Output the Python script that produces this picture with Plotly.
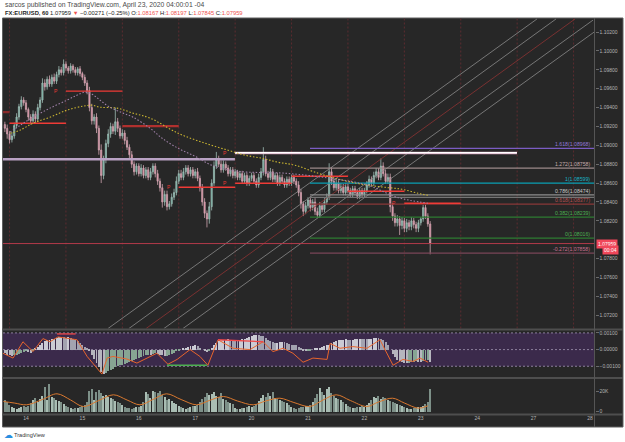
import plotly.graph_objects as go

W, H = 625, 442

# ---------------- data ----------------
bar_index = list(range(-9, 173))          # hourly bars, 0 = 14 Apr 00:00
first_open = 1.0922
close = [
    1.0918, 1.0912, 1.0906, 1.0910, 1.0921, 1.0930, 1.0941, 1.0948, 1.0945,
    1.0938, 1.0930, 1.0926, 1.0933, 1.0928, 1.0940, 1.0948, 1.0966, 1.0962, 1.0970, 1.0965, 1.0972,
    1.0968, 1.0975, 1.0980, 1.0977, 1.0986, 1.0982, 1.0979, 1.0984, 1.0980, 1.0977, 1.0981, 1.0976,
    1.0972, 1.0966, 1.0958, 1.0940, 1.0926, 1.0930, 1.0918, 1.0895, 1.0868, 1.0885, 1.0902, 1.0912,
    1.0920, 1.0915, 1.0925, 1.0918, 1.0910, 1.0913, 1.0905, 1.0898, 1.0890, 1.0880, 1.0872, 1.0878,
    1.0870, 1.0876, 1.0868, 1.0874, 1.0866, 1.0872, 1.0878, 1.0870, 1.0862, 1.0855, 1.0840, 1.0848,
    1.0835, 1.0838, 1.0845, 1.0850, 1.0862, 1.0870, 1.0866, 1.0872, 1.0876, 1.0870, 1.0874, 1.0868,
    1.0872, 1.0865, 1.0855, 1.0840, 1.0828, 1.0822, 1.0835, 1.0860, 1.0878, 1.0885, 1.0880, 1.0874,
    1.0880, 1.0876, 1.0870, 1.0874, 1.0868, 1.0872, 1.0866, 1.0870, 1.0862, 1.0868, 1.0860, 1.0865,
    1.0868, 1.0862, 1.0858, 1.0866, 1.0872, 1.0885, 1.0870, 1.0866, 1.0872, 1.0864, 1.0868, 1.0860,
    1.0866, 1.0862, 1.0858, 1.0864, 1.0860, 1.0866, 1.0862, 1.0858, 1.0850, 1.0838, 1.0830, 1.0836,
    1.0842, 1.0834, 1.0840, 1.0830, 1.0826, 1.0836, 1.0832, 1.0840, 1.0845, 1.0872, 1.0862, 1.0855,
    1.0860, 1.0852, 1.0856, 1.0850, 1.0856, 1.0852, 1.0848, 1.0854, 1.0850, 1.0846, 1.0852, 1.0848,
    1.0852, 1.0858, 1.0864, 1.0860, 1.0868, 1.0872, 1.0866, 1.0878, 1.0870, 1.0862, 1.0866, 1.0835,
    1.0825, 1.0818, 1.0822, 1.0815, 1.0820, 1.0812, 1.0818, 1.0814, 1.0820, 1.0816, 1.0812, 1.0818,
    1.0822, 1.0834, 1.0825, 1.08167, 1.07959,
]
upper_wick_pips = [
    3, 4, 3, 4, 3, 4, 3, 4, 3,
    3, 2, 3, 4, 3, 4, 3, 5, 4, 3, 4, 3, 4, 3, 4, 3, 5, 3, 2, 3, 2, 3, 2, 3,
    2, 3, 3, 4, 4, 3, 4, 3, 6, 4, 4, 5, 4, 3, 15, 4, 3, 4, 3, 4, 3, 4, 3, 3,
    3, 4, 3, 3, 3, 4, 3, 3, 4, 3, 4, 4, 4, 3, 4, 4, 5, 4, 4, 4, 3, 3, 3, 3,
    3, 4, 3, 4, 4, 3, 5, 4, 5, 8, 4, 4, 4, 3, 3, 3, 3, 3, 2, 3, 3, 3, 3, 3,
    3, 3, 3, 4, 4, 13, 4, 3, 4, 3, 3, 3, 3, 3, 3, 3, 3, 3, 3, 3, 4, 4, 3, 4,
    3, 4, 3, 4, 4, 4, 3, 4, 4, 9, 5, 4, 4, 3, 4, 3, 4, 3, 3, 3, 3, 3, 3, 3,
    3, 4, 4, 3, 4, 4, 4, 8, 4, 4, 4, 4, 4, 3, 4, 3, 4, 3, 4, 3, 4, 3, 3, 3,
    2, 3, 3, 3, 3,
]
lower_wick_pips = [
    4, 5, 4, 3, 3, 3, 3, 3, 3,
    3, 4, 4, 3, 4, 3, 3, 3, 4, 3, 3, 3, 3, 3, 3, 3, 3, 3, 3, 3, 3, 3, 3, 3,
    3, 3, 4, 4, 4, 4, 5, 5, 8, 4, 4, 4, 4, 3, 4, 4, 3, 3, 4, 3, 4, 4, 4, 3,
    3, 3, 3, 3, 3, 3, 3, 4, 4, 4, 6, 4, 4, 3, 3, 3, 3, 3, 3, 3, 3, 3, 3, 3,
    3, 3, 4, 4, 5, 9, 5, 4, 3, 3, 3, 3, 3, 3, 3, 3, 3, 3, 3, 3, 3, 3, 3, 3,
    3, 3, 3, 3, 3, 4, 3, 3, 3, 3, 3, 3, 3, 3, 3, 3, 3, 3, 3, 3, 4, 5, 5, 3,
    3, 4, 3, 4, 3, 3, 3, 3, 3, 3, 4, 3, 3, 3, 3, 3, 3, 3, 3, 3, 3, 3, 3, 3,
    3, 3, 3, 3, 3, 3, 3, 3, 3, 3, 3, 6, 5, 4, 4, 10, 4, 4, 4, 4, 4, 4, 4, 4,
    3, 3, 3, 3, 11.4,
]
volume_k = [
    12, 10, 7, 5, 4, 3, 4, 5, 6,
    5, 6, 9, 12, 14, 10, 13, 16, 25, 12, 28, 15, 14, 12, 11, 10, 8, 6, 5, 4, 3, 4, 4, 5,
    6, 7, 10, 21, 23, 12, 20, 22, 19, 16, 17, 15, 14, 13, 11, 10, 9, 7, 5, 4, 4, 3, 4, 5,
    5, 6, 10, 20, 18, 14, 21, 20, 19, 21, 17, 15, 12, 13, 11, 9, 8, 6, 5, 4, 3, 4, 5, 6,
    6, 7, 10, 13, 15, 19, 17, 18, 20, 16, 15, 19, 13, 12, 10, 9, 8, 4, 3, 3, 4, 4, 5, 6,
    5, 6, 8, 11, 14, 17, 15, 19, 16, 20, 14, 13, 12, 11, 10, 9, 7, 5, 4, 3, 4, 5, 5, 6,
    6, 7, 10, 14, 18, 24, 20, 17, 23, 25, 19, 16, 14, 13, 12, 10, 8, 6, 5, 4, 4, 5, 5, 6,
    5, 7, 9, 12, 15, 14, 16, 13, 15, 14, 12, 11, 10, 9, 8, 7, 6, 5, 4, 3, 3, 4, 4, 5,
    5, 6, 8, 10, 23,
]
vol_ma_idx = [-9.6, -5, 0.3, 7, 13.2, 19, 24.4, 31, 37.2, 43, 48.5, 54, 59.8, 66, 72.6, 78,
              84, 90, 96.7, 102, 108, 114, 120.8, 126, 132, 138, 145, 150, 156, 161, 167, 171]
vol_ma_k = [10, 8.5, 6.7, 12, 17.7, 11.5, 5, 11, 16.7, 11.5, 6.7, 12, 17.7, 12, 6.7, 11,
            15, 10.5, 6.7, 10.5, 13.3, 9, 5, 11, 16.7, 11, 5, 9.5, 13.3, 8.5, 3.3, 5.7]

osc_hist_e5 = [
    -20, -30, -35, -40, -35, -30, -25, -20, -15, -10, -15, -20, -10,
    5, 15, 25, 40, 50, 55, 60, 62, 65,
    70, 74, 76, 75, 72, 74, 70, 65, 58, 50,
    40, 30, 18, 5, -10,
    -30, -55, -80, -105, -135, -145, -140, -130, -125,
    -115, -105, -100, -95, -90, -85, -80, -75, -70, -60, -55, -50, -45, -40,
    -35, -30, -30, -25, -20, -25, -30, -35, -40, -38, -32, -25, -18, -10, -5, 0,
    5, 10, 15, 20, 22, 25, 20, 10, 0, -10, -15, -5, 10,
    25, 40, 50, 55, 58, 60, 62, 60, 58, 56, 55, 58, 62, 66, 70, 75, 80, 85, 88, 86, 84, 80, 70, 60,
    50, 45, 40, 42, 45, 48, 45, 40, 35, 30, 28, 25, 15, 5, -5, -10, -8, -5, 0, 5, 10, 12, 15, 20, 25, 30, 40,
    45, 50, 55, 58, 60, 62, 60, 58, 60, 62, 64, 66, 65, 63, 62, 64, 66, 70, 72, 70, 65, 60,
    45, 25, 0, -25, -45, -60, -70, -75, -78, -80, -78, -75, -72, -70, -72, -74, -70, -65, -60, -72,
]
osc_line_idx = [-9.8, -5.5, -1.3, 3, 7.2, 10.2, 13.6, 17.5, 21.7, 26, 30.2, 32.3, 34.5, 37, 43, 47.2,
                51.5, 55.7, 58.3, 60.4, 64.3, 69.8, 74, 77.4, 81.7, 88.1, 95.3, 100.9, 105.1, 109.4,
                113.6, 117.9, 122.1, 128.1, 129.4, 133.6, 139.1, 145.1, 150.6, 153.6, 156.2, 160.4,
                164.7, 167.7, 171.1]
osc_line_e5 = [-22, -51, 47, -12, 66, 47, 76, 68, 59, -41, -110, -147, -51, -41, -57, -81,
               -51, -22, -59, -88, -59, 0, -41, -94, 59, 8, 0, 47, -12, 8,
               -22, -76, -51, -59, 37, 8, 18, 8, 59, -22, -94, -59,
               -71, -51, -76]
osc_div_red = [([13.2, 21.1], [94, 94]), ([81.7, 100.9], [59, 47])]
osc_div_green = ([60, 77], [-94, -94])

ma_fast_idx = [-6.8, -2.6, 3, 10.2, 17.4, 21.7, 25.1, 28.1, 31.5, 35.7, 41.3, 45.5, 52.8, 57.9,
               64.7, 71.9, 79.1, 90.2, 110.2, 129.4, 145.5, 157.9, 171]
ma_fast_price = [1.0914, 1.0921, 1.09298, 1.09394, 1.09478, 1.09531, 1.09563, 1.09542, 1.09478,
                 1.09404, 1.09341, 1.09298, 1.09181, 1.09075, 1.08969, 1.08884, 1.08789, 1.08725,
                 1.08704, 1.08651, 1.08577, 1.08449, 1.08386]
ma_slow_idx = [-6.8, -2.6, 3, 10.2, 17.4, 24.3, 28.1, 31.5, 38.7, 45.5, 52.8, 64.7, 76.2, 86,
               93.2, 100.4, 107.2, 114.5, 124.3, 131.5, 138.7, 145.5, 152.8, 160, 166.8, 171]
ma_slow_price = [1.09128, 1.0916, 1.09234, 1.09298, 1.09372, 1.09415, 1.09425, 1.09404, 1.09394,
                 1.09341, 1.09288, 1.09128, 1.09022, 1.08948, 1.08895, 1.08863, 1.08821, 1.08789,
                 1.08704, 1.08651, 1.08608, 1.08577, 1.08555, 1.08534, 1.08492, 1.08470]

day_tick_idx = [0, 24, 48, 72, 96, 120, 144, 168, 192, 216, 240]
day_tick_text = ["14", "15", "16", "17", "20", "21", "22", "23", "24", "27", "28"]
session_break_idx = [-7, 17, 41, 65, 89, 113, 137, 161, 185, 209, 233]
price_ticks = [1.072, 1.074, 1.076, 1.078, 1.082, 1.084, 1.086, 1.088, 1.090,
               1.092, 1.094, 1.096, 1.098, 1.100, 1.102]

pivot_start = [-10, -7, 17, 41, 65, 89, 113, 137, 161]
pivot_end = [-7, 17, 41, 65, 89, 113, 137, 161, 185]
pivot_price = [1.09351, 1.09234, 1.09574, 1.09203, 1.08555, 1.08598, 1.08672, 1.08513, 1.08386]
pivot_p_idx = [14.5, 62.5, 86.4, 86.4, 158.3]
pivot_p_price = [1.09574, 1.08555, 1.08921, 1.08598, 1.08386]

lavender_level = (1.08853, -10, 88.9)
white_level = (1.08921, 88.9, 208.9)
last_price = 1.07959
countdown_price = 1.07892

fib_start_idx = 120.85
fib_price = [1.08968, 1.08758, 1.08599, 1.08474, 1.08449, 1.08377, 1.08239, 1.08016, 1.07858]
fib_text = ["1.618(1.08968)", "1.272(1.08758)", "1(1.08599)", "0.786(1.08474)", "",
            "0.618(1.08377)", "0.382(1.08239)", "0(1.08016)", "-0.272(1.07858)"]
fib_line_color = ["#7b5cc4", "#9c8a8a", "#0aa0b4", "#8e8e8e", "#747474", "#8a3838",
                  "#2e7d32", "#2e7d32", "#7a4658"]
fib_text_color = ["#9478dc", "#c4acac", "#18b0c4", "#c8c8c8", "#c8c8c8", "#b85050",
                  "#4caf50", "#4caf50", "#c87090"]

channel_idx = [(34.9, 217.4), (43.8, 225.5), (51.1, 233.6), (58.7, 241.3), (66.8, 241.7)]
channel_price = [(1.07059, 1.10338), (1.07059, 1.10338), (1.07059, 1.10338),
                 (1.07059, 1.10327), (1.07059, 1.10199)]
channel_color = ["#8c8c8c", "#8c8c8c", "#8e3434", "#8c8c8c", "#8c8c8c"]

# ---------------- derived OHLC ----------------
opens = [first_open] + close[:-1]
highs = [max(o, c) + u * 1e-4 for o, c, u in zip(opens, close, upper_wick_pips)]
lows = [min(o, c) - d * 1e-4 for o, c, d in zip(opens, close, lower_wick_pips)]


def py(y):
    return 1 - y / H


def pxx(x):
    return x / W


X0, X1 = -9.787, 241.70
fig = go.Figure()

# channel lines
for (i0, i1), (p0, p1), col in zip(channel_idx, channel_price, channel_color):
    fig.add_trace(go.Scatter(x=[i0, i1], y=[p0, p1], mode="lines",
                             line=dict(color=col, width=0.8), xaxis="x", yaxis="y"))

# fib levels
for p, col in zip(fib_price, fib_line_color):
    fig.add_trace(go.Scatter(x=[fib_start_idx, 250], y=[p, p], mode="lines",
                             line=dict(color=col, width=1.2), xaxis="x", yaxis="y"))

# lavender and white levels
fig.add_trace(go.Scatter(x=[lavender_level[1], lavender_level[2]], y=[lavender_level[0]] * 2,
                         mode="lines", line=dict(color="#b9a2c4", width=2.4)))
fig.add_trace(go.Scatter(x=[white_level[1], white_level[2]], y=[white_level[0] - 0.00002] * 2,
                         mode="lines", line=dict(color="#d49ab8", width=2.6)))
fig.add_trace(go.Scatter(x=[white_level[1], white_level[2]], y=[white_level[0]] * 2,
                         mode="lines", line=dict(color="#ffffff", width=1.3)))

# pivots
for k, (a, b, p) in enumerate(zip(pivot_start, pivot_end, pivot_price)):
    if k == 0:
        col, wd = "#8b2a2a", 2.2
    elif k == 3:
        col, wd = "#b0302e", 2.2
    else:
        col, wd = "#ef3b36", 1.4
    fig.add_trace(go.Scatter(x=[a, b], y=[p, p], mode="lines", line=dict(color=col, width=wd)))

# moving averages
fig.add_trace(go.Scatter(x=ma_slow_idx, y=ma_slow_price, mode="lines", line_shape="spline",
                         line=dict(color="#c9b431", width=1.1, dash="1.5px,1.8px")))
fig.add_trace(go.Scatter(x=ma_fast_idx, y=ma_fast_price, mode="lines", line_shape="spline",
                         line=dict(color="#9d7fa6", width=1.1, dash="1.5px,1.8px")))

# candles
fig.add_trace(go.Candlestick(
    x=bar_index, open=opens, high=highs, low=lows, close=close,
    increasing=dict(line=dict(color="#9fbdb5", width=0.8), fillcolor="#5fa898"),
    decreasing=dict(line=dict(color="#cfa4b0", width=0.8), fillcolor="#e58aa3"),
    whiskerwidth=0, xaxis="x", yaxis="y"))

# oscillator
hist_vals = [v * 1e-5 for v in osc_hist_e5]
hist_cols = []
prev = hist_vals[0]
for v in hist_vals:
    if v >= 0:
        hist_cols.append("#cbcbd4" if v >= prev else "#a3a3b0")
    else:
        hist_cols.append("#b6b6be" if v <= prev else "#87a593")
    prev = v
fig.add_trace(go.Bar(x=bar_index, y=hist_vals, marker=dict(color=hist_cols, line_width=0),
                     width=0.4, xaxis="x2", yaxis="y2"))
fig.add_trace(go.Scatter(x=osc_line_idx, y=[v * 1e-5 for v in osc_line_e5], mode="lines",
                         line=dict(color="#e8652c", width=1), xaxis="x2", yaxis="y2"))
for xs, vs in osc_div_red:
    fig.add_trace(go.Scatter(x=xs, y=[v * 1e-5 for v in vs], mode="lines",
                             line=dict(color="#f04848", width=1.3), xaxis="x2", yaxis="y2"))
fig.add_trace(go.Scatter(x=osc_div_green[0], y=[v * 1e-5 for v in osc_div_green[1]], mode="lines",
                         line=dict(color="#4caf50", width=1.3), xaxis="x2", yaxis="y2"))

# volume
vol_cols = ["#a9bdb3" if c >= o else "#7d9088" for o, c in zip(opens, close)]
fig.add_trace(go.Bar(x=bar_index, y=volume_k, marker=dict(color=vol_cols, line_width=0),
                     width=0.5, xaxis="x3", yaxis="y3"))
fig.add_trace(go.Scatter(x=vol_ma_idx, y=vol_ma_k, mode="lines", line_shape="spline",
                         line=dict(color="#d9782f", width=1), xaxis="x3", yaxis="y3"))

shapes = [
    dict(type="rect", xref="paper", yref="paper", x0=pxx(2.5), x1=pxx(623), y0=py(427), y1=py(18),
         fillcolor="#272727", line=dict(color="#5e5e5e", width=1), layer="below"),
    dict(type="rect", xref="x2 domain", yref="y2", x0=0, x1=1, y0=-0.001, y1=0.001,
         fillcolor="#3b2a4b", line_width=0, layer="below"),
]
for v in (0.001, 0.0, -0.001):
    shapes.append(dict(type="line", xref="x2 domain", yref="y2", x0=0, x1=1, y0=v, y1=v,
                       line=dict(color="#8c7f9c", width=1, dash="2px,2px"), layer="below"))
for s in session_break_idx:
    shapes.append(dict(type="line", xref="x", yref="y domain", x0=s, x1=s, y0=0, y1=1,
                       line=dict(color="#5c2c30", width=1, dash="2px,2px"), layer="below"))
shapes.append(dict(type="line", xref="x domain", yref="y", x0=0, x1=1, y0=last_price, y1=last_price,
                   line=dict(color="#b23a4a", width=1)))
for yy in (329.5, 378, 414.5):
    shapes.append(dict(type="line", xref="paper", yref="paper", x0=pxx(2.5), x1=pxx(623),
                       y0=py(yy), y1=py(yy), line=dict(color="#4e4e4e", width=2)))
shapes.append(dict(type="line", xref="paper", yref="paper", x0=pxx(594.5), x1=pxx(594.5),
                   y0=py(427), y1=py(18), line=dict(color="#555555", width=1)))

ann = []
for p, t, col in zip(fib_price, fib_text, fib_text_color):
    if t:
        ann.append(dict(xref="paper", yref="y", x=pxx(592), y=p, text=t, showarrow=False,
                        xanchor="right", yanchor="bottom", yshift=-1,
                        font=dict(size=5.2, color=col, family="Liberation Sans")))
for i, p in zip(pivot_p_idx, pivot_p_price):
    ann.append(dict(xref="x", yref="y", x=i, y=p, text="P", showarrow=False, xanchor="right",
                    yanchor="middle", font=dict(size=5, color="#e53935", family="Liberation Sans")))
ann.append(dict(xref="paper", yref="y", x=pxx(595.5), y=last_price, text="1.07959", showarrow=False,
                xanchor="left", yanchor="middle", bgcolor="#f0475a", borderpad=1,
                font=dict(size=5, color="#ffffff", family="Liberation Sans")))
ann.append(dict(xref="paper", yref="y", x=pxx(602), y=countdown_price, text="00:04", showarrow=False,
                xanchor="left", yanchor="middle", bgcolor="#f0475a", borderpad=1,
                font=dict(size=5, color="#ffffff", family="Liberation Sans")))
red = "#ef5350"
ann.append(dict(xref="paper", yref="paper", x=pxx(3), y=py(5), xanchor="left", yanchor="middle",
                showarrow=False, text="sarcos published on TradingView.com, April 23, 2020 04:00:01 -04",
                font=dict(size=6.8, color="#4a4a4a", family="Liberation Sans")))
ann.append(dict(xref="paper", yref="paper", x=pxx(3), y=py(12.8), xanchor="left", yanchor="middle",
                showarrow=False,
                text=("<b>FX:EURUSD, 60</b> 1.07959 <span style='color:%s'>▼</span> −0.00271 (−0.25%%) "
                      "O:<span style='color:%s'>1.08167</span> H:<span style='color:%s'>1.08197</span> "
                      "L:<span style='color:%s'>1.07845</span> C:<span style='color:%s'>1.07959</span>")
                     % (red, red, red, red, red),
                font=dict(size=5.8, color="#222222", family="Liberation Sans")))
ann.append(dict(xref="paper", yref="paper", x=pxx(2), y=py(434.5), xanchor="left", yanchor="middle",
                showarrow=False, text="☁", font=dict(size=9, color="#2a8fe0", family="DejaVu Sans")))
ann.append(dict(xref="paper", yref="paper", x=pxx(12), y=py(434.5), xanchor="left", yanchor="middle",
                showarrow=False, text="TradingView",
                font=dict(size=5.6, color="#333333", family="Liberation Sans")))

axfont = dict(size=5, color="#b4b4b4", family="Liberation Sans")
xdom = [pxx(3), pxx(594)]
layout = dict(
    width=W, height=H, margin=dict(l=0, r=0, t=0, b=0),
    paper_bgcolor="#ffffff", plot_bgcolor="rgba(0,0,0,0)",
    showlegend=False, hovermode=False, bargap=0,
    xaxis=dict(domain=xdom, range=[X0, X1], visible=False, rangeslider=dict(visible=False),
               anchor="y"),
    xaxis2=dict(domain=xdom, range=[X0, X1], visible=False, matches="x", anchor="y2"),
    xaxis3=dict(domain=xdom, range=[X0, X1], matches="x", anchor="y3", showgrid=False,
                zeroline=False, showline=False, ticks="", tickvals=day_tick_idx,
                ticktext=day_tick_text, tickfont=axfont),
    yaxis=dict(domain=[py(328.5), py(18)], range=[1.07059, 1.10349], side="right", anchor="free",
               position=pxx(594.5), showgrid=False, zeroline=False, showline=False,
               ticks="outside", ticklen=3, tickcolor="#6a6a6a", tickvals=price_ticks,
               tickformat=".5f", tickfont=axfont),
    yaxis2=dict(domain=[py(378), py(330)], range=[-0.001706, 0.001176], side="right",
                anchor="free", position=pxx(594.5), showgrid=False, zeroline=False,
                showline=False, ticks="outside", ticklen=3, tickcolor="#6a6a6a",
                tickvals=[0.001, 0.0, -0.001], ticktext=["0.00100", "0.00000", "−0.00100"],
                tickfont=axfont),
    yaxis3=dict(domain=[py(414), py(379)], range=[-2.5, 32.5], side="right", anchor="free",
                position=pxx(594.5), showgrid=False, zeroline=False, showline=False,
                ticks="outside", ticklen=3, tickcolor="#6a6a6a", tickvals=[0, 20],
                ticktext=["0", "20K"], tickfont=axfont),
    shapes=shapes, annotations=ann,
)
fig.update_layout(**layout)
fig.write_html("out.html")
